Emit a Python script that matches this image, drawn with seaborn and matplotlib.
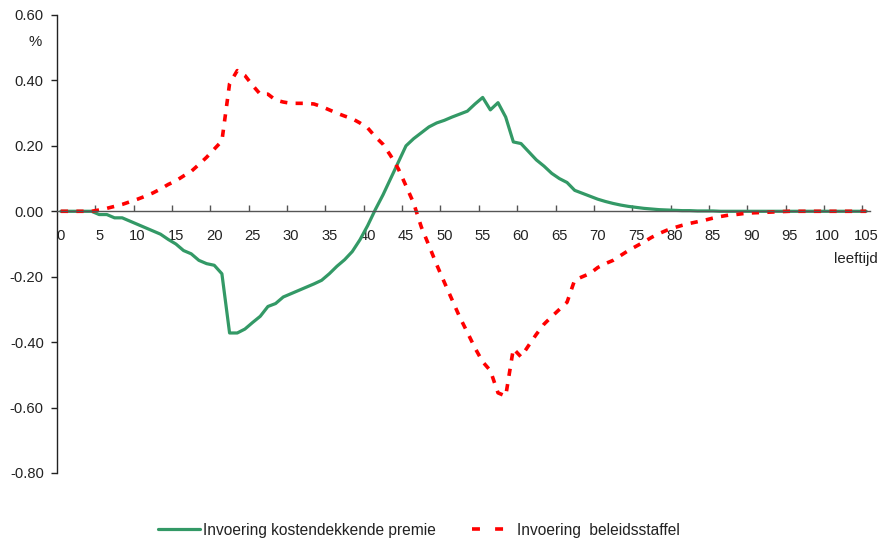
import matplotlib
matplotlib.use("Agg")
import matplotlib.pyplot as plt
import seaborn as sns
import pandas as pd
from matplotlib.lines import Line2D
from matplotlib.ticker import FixedLocator, FuncFormatter

# ---- data -------------------------------------------------------------
ages = list(range(0, 106))

kostendekkend = [
    0.000, 0.000, 0.000, 0.000, 0.000,                      # 0-4
    -0.010, -0.010, -0.020, -0.020, -0.030,                 # 5-9
    -0.040, -0.050, -0.060, -0.070, -0.086,                 # 10-14
    -0.100, -0.120, -0.130, -0.150, -0.160,                 # 15-19
    -0.165, -0.191, -0.372, -0.372, -0.360,                 # 20-24
    -0.340, -0.321, -0.291, -0.282, -0.262,                 # 25-29
    -0.252, -0.242, -0.232, -0.222, -0.211,                 # 30-34
    -0.191, -0.168, -0.148, -0.123, -0.087,                 # 35-39
    -0.044, 0.005, 0.050, 0.100, 0.150,                     # 40-44
    0.200, 0.222, 0.240, 0.258, 0.270,                      # 45-49
    0.278, 0.288, 0.297, 0.306, 0.328,                      # 50-54
    0.348, 0.310, 0.332, 0.288, 0.212,                      # 55-59
    0.207, 0.182, 0.157, 0.138, 0.116,                      # 60-64
    0.100, 0.088, 0.064, 0.055, 0.046,                      # 65-69
    0.037, 0.030, 0.024, 0.019, 0.015,                      # 70-74
    0.012, 0.009, 0.007, 0.005, 0.004,                      # 75-79
    0.003, 0.002, 0.002, 0.001, 0.001,                      # 80-84
    0.001, 0.000, 0.000, 0.000, 0.000,                      # 85-89
    0.000, 0.000, 0.000, 0.000, 0.000,                      # 90-94
    0.000, 0.000, 0.000, 0.000, 0.000,                      # 95-99
    0.000, 0.000, 0.000, 0.000, 0.000, 0.000,               # 100-105
]

beleidsstaffel = [
    0.000, 0.000, 0.000, 0.000, 0.000,                      # 0-4
    0.004, 0.009, 0.015, 0.021, 0.029,                      # 5-9
    0.037, 0.046, 0.056, 0.068, 0.082,                      # 10-14
    0.093, 0.108, 0.122, 0.143, 0.165,                      # 15-19
    0.190, 0.215, 0.390, 0.430, 0.415,                      # 20-24
    0.385, 0.358, 0.358, 0.340, 0.334,                      # 25-29
    0.330, 0.330, 0.330, 0.328, 0.320,                      # 30-34
    0.310, 0.300, 0.291, 0.283, 0.270,                      # 35-39
    0.255, 0.228, 0.205, 0.170, 0.130,                      # 40-44
    0.078, 0.025, -0.048, -0.105, -0.163,                   # 45-49
    -0.217, -0.270, -0.323, -0.370, -0.418,                 # 50-54
    -0.460, -0.487, -0.555, -0.565, -0.420,                 # 55-59
    -0.445, -0.410, -0.376, -0.345, -0.322,                 # 60-64
    -0.300, -0.278, -0.210, -0.200, -0.190,                 # 65-69
    -0.172, -0.160, -0.150, -0.135, -0.120,                 # 70-74
    -0.107, -0.094, -0.080, -0.068, -0.058,                 # 75-79
    -0.050, -0.043, -0.037, -0.032, -0.027,                 # 80-84
    -0.021, -0.016, -0.012, -0.010, -0.007,                 # 85-89
    -0.005, -0.004, -0.003, -0.002, -0.001,                 # 90-94
    0.000, 0.000, 0.000, 0.000, 0.000,                      # 95-99
    0.000, 0.000, 0.000, 0.000, 0.000, 0.000,               # 100-105
]

x_tick_labels = [str(v) for v in range(0, 110, 5)]
y_ticks = [-0.80, -0.60, -0.40, -0.20, 0.00, 0.20, 0.40, 0.60]

label_green = "Invoering kostendekkende premie"
label_red = "Invoering  beleidsstaffel"

# ---- style ------------------------------------------------------------
sns.set_style("white")
plt.rcParams["font.family"] = ["Liberation Sans", "DejaVu Sans"]
plt.rcParams["axes.unicode_minus"] = False

GREEN = "#339966"
RED = "#FF0000"
TXT = "#222222"
FS = 10.6
FS_CAP = 10.8
FS_LEG = 11.2

fig = plt.figure(figsize=(8.82, 5.42), dpi=100)
ax = fig.add_axes([57 / 882, 1 - 473 / 542, (870 - 57) / 882, (473 - 15) / 542])

df = pd.DataFrame({"leeftijd": ages, "kosten": kostendekkend, "beleid": beleidsstaffel})

sns.lineplot(data=df, x="leeftijd", y="kosten", ax=ax, color=GREEN,
             linewidth=2.3, label=label_green)
sns.lineplot(data=df, x="leeftijd", y="beleid", ax=ax, color=RED,
             linewidth=2.6, linestyle=(0, (2.0, 2.3)), label=label_red)

ax.set_xlim(-0.5, 105.5)
ax.set_ylim(-0.80, 0.60)
ax.set_xlabel("")
ax.set_ylabel("")

# spines
for s in ["top", "right"]:
    ax.spines[s].set_visible(False)
ax.spines["bottom"].set_position(("data", 0))
ax.spines["bottom"].set_color("#555555")
ax.spines["left"].set_color(TXT)
ax.spines["bottom"].set_linewidth(1.0)
ax.spines["left"].set_linewidth(1.0)

# y axis
ax.yaxis.set_major_locator(FixedLocator(y_ticks))
ax.yaxis.set_major_formatter(FuncFormatter(lambda v, p: f"{v:.2f}"))
ax.tick_params(axis="y", direction="out", length=4.5, width=1.0, pad=5,
               labelsize=FS, colors=TXT, left=True)

# x axis: tick marks between categories, labels centred on categories
x_mark_pos = [-0.5 + 5 * k for k in range(1, 22)]
x_label_pos = list(range(0, 110, 5))
ax.xaxis.set_major_locator(FixedLocator(x_mark_pos))
ax.xaxis.set_major_formatter(FuncFormatter(lambda v, p: ""))
ax.xaxis.set_minor_locator(FixedLocator(x_label_pos))
ax.set_xticklabels(x_tick_labels, minor=True)
ax.tick_params(axis="x", which="major", direction="in", length=4, width=1.0,
               color="#555555", bottom=True)
ax.tick_params(axis="x", which="minor", length=0, pad=13, labelsize=FS,
               labelcolor=TXT, bottom=True)

ax.grid(False)

# axis captions
fig.text(35 / 882, 1 - 42 / 542, "%", ha="center", va="center", fontsize=FS_CAP, color=TXT)
fig.text(878 / 882, 1 - 259 / 542, "leeftijd", ha="right", va="center", fontsize=FS_CAP, color=TXT)

# legend
handles, labels = ax.get_legend_handles_labels()
ax.get_legend().remove()
red_handle = Line2D([], [], color=RED, linewidth=2.6, linestyle=(0, (2.2, 4.2)))
fig.legend([handles[0], red_handle], labels, loc="center left",
           bbox_to_anchor=(158 / 882, 1 - 530 / 542),
           ncol=2, frameon=False, fontsize=FS_LEG, handlelength=2.7, handletextpad=0.21,
           columnspacing=2.3, borderpad=0, borderaxespad=0, labelcolor=TXT)

fig.savefig("out.png", dpi=100)
